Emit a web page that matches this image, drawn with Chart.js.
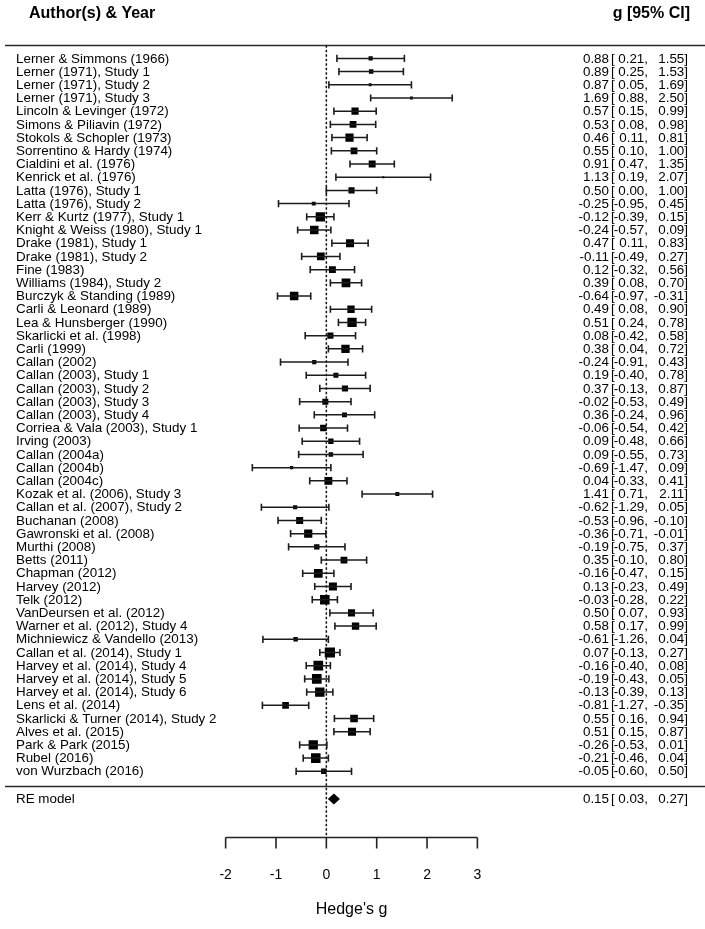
<!DOCTYPE html>
<html>
<head>
<meta charset="utf-8">
<script src="https://cdn.jsdelivr.net/npm/chart.js@4.4.1/dist/chart.umd.min.js"></script>
<style>
  html, body { margin: 0; padding: 0; background: #ffffff; }
  #wrap { width: 705px; height: 929px; position: relative; }
</style>
</head>
<body>
<div id="wrap"><canvas id="forest"></canvas></div>
<script>
// --- Data ---
const studies = [
  "Lerner & Simmons (1966)", "Lerner (1971), Study 1", "Lerner (1971), Study 2", "Lerner (1971), Study 3",
  "Lincoln & Levinger (1972)", "Simons & Piliavin (1972)", "Stokols & Schopler (1973)", "Sorrentino & Hardy (1974)",
  "Cialdini et al. (1976)", "Kenrick et al. (1976)", "Latta (1976), Study 1", "Latta (1976), Study 2",
  "Kerr & Kurtz (1977), Study 1", "Knight & Weiss (1980), Study 1", "Drake (1981), Study 1", "Drake (1981), Study 2",
  "Fine (1983)", "Williams (1984), Study 2", "Burczyk & Standing (1989)", "Carli & Leonard (1989)",
  "Lea & Hunsberger (1990)", "Skarlicki et al. (1998)", "Carli (1999)", "Callan (2002)",
  "Callan (2003), Study 1", "Callan (2003), Study 2", "Callan (2003), Study 3", "Callan (2003), Study 4",
  "Corriea & Vala (2003), Study 1", "Irving (2003)", "Callan (2004a)", "Callan (2004b)", "Callan (2004c)",
  "Kozak et al. (2006), Study 3", "Callan et al. (2007), Study 2", "Buchanan (2008)", "Gawronski et al. (2008)",
  "Murthi (2008)", "Betts (2011)", "Chapman (2012)", "Harvey (2012)", "Telk (2012)",
  "VanDeursen et al. (2012)", "Warner et al. (2012), Study 4", "Michniewicz & Vandello (2013)",
  "Callan et al. (2014), Study 1", "Harvey et al. (2014), Study 4", "Harvey et al. (2014), Study 5",
  "Harvey et al. (2014), Study 6", "Lens et al. (2014)", "Skarlicki & Turner (2014), Study 2",
  "Alves et al. (2015)", "Park & Park (2015)", "Rubel (2016)", "von Wurzbach (2016)"
];

const estimates = [
  0.88, 0.89, 0.87, 1.69, 0.57, 0.53, 0.46, 0.55, 0.91, 1.13, 0.50, -0.25,
  -0.12, -0.24, 0.47, -0.11, 0.12, 0.39, -0.64, 0.49, 0.51, 0.08, 0.38, -0.24,
  0.19, 0.37, -0.02, 0.36, -0.06, 0.09, 0.09, -0.69, 0.04, 1.41, -0.62, -0.53,
  -0.36, -0.19, 0.35, -0.16, 0.13, -0.03, 0.50, 0.58, -0.61, 0.07, -0.16, -0.19,
  -0.13, -0.81, 0.55, 0.51, -0.26, -0.21, -0.05
];

const lowerCI = [
  0.21, 0.25, 0.05, 0.88, 0.15, 0.08, 0.11, 0.10, 0.47, 0.19, 0.00, -0.95,
  -0.39, -0.57, 0.11, -0.49, -0.32, 0.08, -0.97, 0.08, 0.24, -0.42, 0.04, -0.91,
  -0.40, -0.13, -0.53, -0.24, -0.54, -0.48, -0.55, -1.47, -0.33, 0.71, -1.29, -0.96,
  -0.71, -0.75, -0.10, -0.47, -0.23, -0.28, 0.07, 0.17, -1.26, -0.13, -0.40, -0.43,
  -0.39, -1.27, 0.16, 0.15, -0.53, -0.46, -0.60
];

const upperCI = [
  1.55, 1.53, 1.69, 2.50, 0.99, 0.98, 0.81, 1.00, 1.35, 2.07, 1.00, 0.45,
  0.15, 0.09, 0.83, 0.27, 0.56, 0.70, -0.31, 0.90, 0.78, 0.58, 0.72, 0.43,
  0.78, 0.87, 0.49, 0.96, 0.42, 0.66, 0.73, 0.09, 0.41, 2.11, 0.05, -0.10,
  -0.01, 0.37, 0.80, 0.15, 0.49, 0.22, 0.93, 0.99, 0.04, 0.27, 0.08, 0.05,
  0.13, -0.35, 0.94, 0.87, 0.01, 0.04, 0.50
];

const pooledLabel = "RE model";
const pooledValues = [0.15, 0.03, 0.27]; // estimate, lower, upper
const axisTicks = [-2, -1, 0, 1, 2, 3];
const axisTitle = "Hedge's g";
const headerLeft = "Author(s) & Year";
const headerRight = "g [95% CI]";

// --- Layout (rows on the y scale, effect size on the x scale) ---
const PX_PER_UNIT = (480 - 223) / 5;
const X_MIN = -2 - 223 / PX_PER_UNIT;
const X_MAX = 3 + (705 - 480) / PX_PER_UNIT;
const ROW_H = 13.41;
const Y_MIN = 1 - 52 / ROW_H;
const Y_MAX = 1 + (929 - 52) / ROW_H;
const ROW_TOP_RULE = 0;
const ROW_BOTTOM_RULE = 56.1;
const ROW_POOLED = 57.1;
const ROW_AXIS = 60.0;

const FONT = "'Liberation Sans', Arial, sans-serif";

// square size grows with the study weight, like metafor does
function squareRadius(lo, hi) {
  const se = (hi - lo) / 3.92;
  const w = 1 / (se * se + 0.1);
  const side = Math.max(1.6, 2 + (w - 3) * 1.35);
  return side / Math.SQRT2;
}

const ciPoints = [];
studies.forEach((_, i) => {
  ciPoints.push({ x: lowerCI[i], y: i + 1 });
  ciPoints.push({ x: upperCI[i], y: i + 1 });
  ciPoints.push({ x: null, y: null });
});

const estPoints = estimates.map((v, i) => ({ x: v, y: i + 1 }));
const estRadius = studies.map((_, i) => squareRadius(lowerCI[i], upperCI[i]));

// --- Rules, reference line, axis, diamond and text ---
const forestDecor = {
  id: "forestDecor",
  beforeDatasetsDraw(chart) {
    const { ctx, scales: { x, y } } = chart;
    ctx.save();
    ctx.strokeStyle = "#2a2a2a";
    ctx.lineWidth = 1.6;
    // horizontal rules
    [ROW_TOP_RULE, ROW_BOTTOM_RULE].forEach(r => {
      const py = Math.round(y.getPixelForValue(r)) + 0.5;
      ctx.beginPath();
      ctx.moveTo(5, py);
      ctx.lineTo(chart.width, py);
      ctx.stroke();
    });
    // dotted reference line at 0
    const x0 = x.getPixelForValue(0);
    ctx.setLineDash([2.5, 2]);
    ctx.lineWidth = 1.5;
    ctx.strokeStyle = "#111";
    ctx.beginPath();
    ctx.moveTo(x0, y.getPixelForValue(ROW_TOP_RULE));
    ctx.lineTo(x0, y.getPixelForValue(ROW_AXIS));
    ctx.stroke();
    ctx.setLineDash([]);
    // x axis with downward ticks
    const ay = Math.round(y.getPixelForValue(ROW_AXIS)) + 0.5;
    ctx.strokeStyle = "#222";
    ctx.lineWidth = 1.6;
    ctx.beginPath();
    ctx.moveTo(x.getPixelForValue(axisTicks[0]), ay);
    ctx.lineTo(x.getPixelForValue(axisTicks[axisTicks.length - 1]), ay);
    axisTicks.forEach(t => {
      const tx = x.getPixelForValue(t);
      ctx.moveTo(tx, ay);
      ctx.lineTo(tx, ay + 11);
    });
    ctx.stroke();
    ctx.restore();
  },
  afterDatasetsDraw(chart) {
    const { ctx, scales: { x, y } } = chart;
    ctx.save();
    // pooled diamond
    const [pe, pl, pu] = pooledValues;
    const py = y.getPixelForValue(ROW_POOLED);
    ctx.fillStyle = "#000";
    ctx.beginPath();
    ctx.moveTo(x.getPixelForValue(pl), py);
    ctx.lineTo(x.getPixelForValue(pe), py - 5.5);
    ctx.lineTo(x.getPixelForValue(pu), py);
    ctx.lineTo(x.getPixelForValue(pe), py + 5.5);
    ctx.closePath();
    ctx.fill();

    // headers
    ctx.fillStyle = "#000";
    ctx.textBaseline = "middle";
    ctx.font = "bold 16px " + FONT;
    ctx.textAlign = "left";
    ctx.fillText(headerLeft, 29, 14);
    ctx.textAlign = "right";
    ctx.fillText(headerRight, 690, 14);

    // study rows
    ctx.font = "13.4px " + FONT;
    const fmt = v => v.toFixed(2);
    const drawRow = (label, est, lo, hi, row) => {
      const ty = y.getPixelForValue(row) + 0.5;
      ctx.textAlign = "left";
      ctx.fillText(label, 16, ty);
      ctx.textAlign = "right";
      ctx.fillText(fmt(est), 609, ty);
      ctx.textAlign = "left";
      ctx.fillText("[", 611, ty);
      ctx.textAlign = "right";
      ctx.fillText(fmt(lo) + ",", 648, ty);
      ctx.fillText(fmt(hi) + "]", 688, ty);
    };
    studies.forEach((s, i) => drawRow(s, estimates[i], lowerCI[i], upperCI[i], i + 1));
    drawRow(pooledLabel, pe, pl, pu, ROW_POOLED);

    // axis labels
    ctx.font = "14px " + FONT;
    ctx.textAlign = "center";
    const ly = y.getPixelForValue(ROW_AXIS) + 38;
    axisTicks.forEach(t => ctx.fillText(String(t), x.getPixelForValue(t), ly));
    ctx.font = "16px " + FONT;
    const mid = (axisTicks[0] + axisTicks[axisTicks.length - 1]) / 2;
    ctx.fillText(axisTitle, x.getPixelForValue(mid), ly + 34);
    ctx.restore();
  }
};

const ctx = document.getElementById("forest").getContext("2d");

const forestChart = new Chart(ctx, {
  type: "scatter",
  data: {
    datasets: [
      {
        label: "95% CI",
        data: ciPoints,
        showLine: true,
        spanGaps: false,
        borderColor: "#1c1c1c",
        borderWidth: 1.5,
        pointStyle: "line",
        pointRotation: 90,
        pointRadius: 3.6,
        pointBorderWidth: 1.6,
        pointBorderColor: "#1c1c1c",
        pointBackgroundColor: "#1c1c1c"
      },
      {
        label: "g",
        data: estPoints,
        showLine: false,
        pointStyle: "rect",
        pointRadius: estRadius,
        pointBorderWidth: 0,
        pointBackgroundColor: "#000",
        pointBorderColor: "#000"
      }
    ]
  },
  options: {
    responsive: true,
    maintainAspectRatio: false,
    animation: false,
    events: [],
    layout: { padding: 0 },
    scales: {
      x: { type: "linear", min: X_MIN, max: X_MAX, display: false },
      y: { type: "linear", min: Y_MIN, max: Y_MAX, reverse: true, display: false }
    },
    plugins: {
      legend: { display: false },
      tooltip: { enabled: false }
    }
  },
  plugins: [forestDecor]
});
</script>
</body>
</html>
